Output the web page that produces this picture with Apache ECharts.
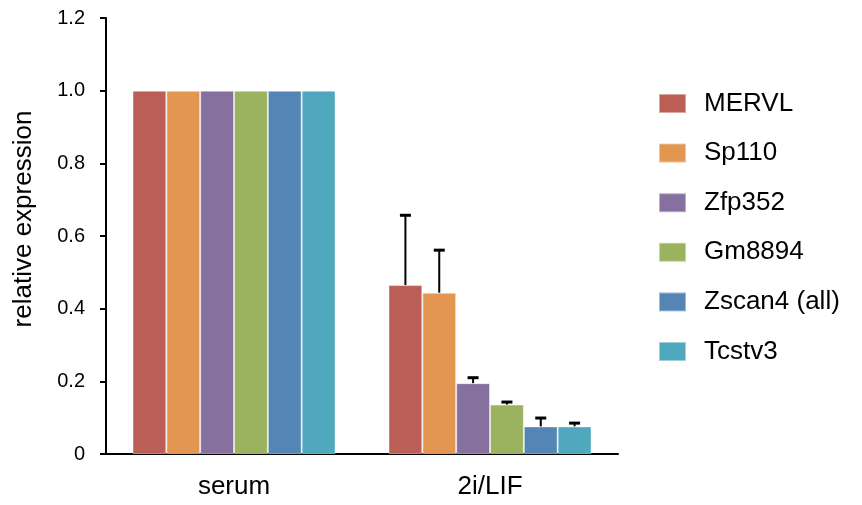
<!DOCTYPE html>
<html><head><meta charset="utf-8">
<script src="https://cdn.jsdelivr.net/npm/echarts@6/dist/echarts.min.js"></script>
<style>html,body{margin:0;padding:0;background:#fff}#c{width:862px;height:505px}</style>
</head><body><div id="c"></div>
<script>
const categories = ['serum', '2i/LIF'];
const genes = ['MERVL', 'Sp110', 'Zfp352', 'Gm8894', 'Zscan4 (all)', 'Tcstv3'];
const colors = ['#BA5E56', '#E3964F', '#8670A0', '#9BB25F', '#5585B5', '#50A8BE'];
const valMERVL  = [1, 0.465];
const valSp110  = [1, 0.444];
const valZfp352 = [1, 0.195];
const valGm8894 = [1, 0.136];
const valZscan4 = [1, 0.076];
const valTcstv3 = [1, 0.076];
const errMERVL  = [0, 0.192];
const errSp110  = [0, 0.117];
const errZfp352 = [0, 0.015];
const errGm8894 = [0, 0.007];
const errZscan4 = [0, 0.023];
const errTcstv3 = [0, 0.009];
const yTicks = ['0', '0.2', '0.4', '0.6', '0.8', '1.0', '1.2'];

const values = [valMERVL, valSp110, valZfp352, valGm8894, valZscan4, valTcstv3];
const errors = [errMERVL, errSp110, errZfp352, errGm8894, errZscan4, errTcstv3];
const catGap = 0.207;
const font = 'Liberation Sans, Arial, sans-serif';

const series = [];
genes.forEach((g, i) => {
  series.push({
    name: g, type: 'bar', data: values[i], barGap: '0%', barCategoryGap: (catGap * 100) + '%',
    itemStyle: { color: colors[i], borderColor: 'rgba(255,255,255,0.45)', borderWidth: 1 }, z: 2
  });
});
genes.forEach((g, i) => {
  series.push({
    type: 'custom', name: g + '_err', z: 3, silent: true,
    data: categories.map((c, k) => [k, values[i][k], values[i][k] + errors[i][k]]),
    renderItem: function (params, api) {
      const k = api.value(0);
      if (api.value(2) <= api.value(1)) return null;
      const band = api.size([1, 0])[0];
      const area = band * (1 - catGap);
      const bw = area / genes.length;
      const base = api.coord([k, api.value(1)]);
      const top = api.coord([k, api.value(2)]);
      const x = base[0] - area / 2 + (i + 0.5) * bw;
      return { type: 'group', children: [
        { type: 'line', shape: { x1: x, y1: base[1], x2: x, y2: top[1] }, style: { stroke: '#000', lineWidth: 2 } },
        { type: 'line', shape: { x1: x - 5.5, y1: top[1], x2: x + 5.5, y2: top[1] }, style: { stroke: '#000', lineWidth: 3 } }
      ]};
    }
  });
});

const chart = echarts.init(document.getElementById('c'));
chart.setOption({
  animation: false,
  backgroundColor: '#fff',
  grid: { left: 106, right: 244, top: 18, bottom: 51, containLabel: false },
  legend: {
    data: genes, orient: 'vertical', left: 658, top: 90.5, padding: 0,
    itemWidth: 27, itemHeight: 19, itemGap: 23.6, icon: 'rect',
    textStyle: { fontSize: 26, fontFamily: font, color: '#000', padding: [0, 0, 0, 13] }
  },
  xAxis: {
    type: 'category', data: categories,
    axisLine: { lineStyle: { color: '#000', width: 2 } },
    axisTick: { show: false },
    axisLabel: { fontSize: 26, fontFamily: font, color: '#000', margin: 20 }
  },
  yAxis: {
    type: 'value', min: 0, max: 1.2, interval: 0.2,
    axisLine: { show: true, lineStyle: { color: '#000', width: 2 } },
    axisTick: { show: true, length: 6, lineStyle: { color: '#000', width: 2 } },
    splitLine: { show: false },
    axisLabel: { fontSize: 20, fontFamily: font, color: '#000', margin: 21,
      formatter: (v) => yTicks[Math.round(v / 0.2)] }
  },
  graphic: [{
    type: 'text', x: 24, y: 219, rotation: Math.PI / 2,
    style: { text: 'relative expression', fontSize: 26, fontFamily: font, fill: '#000', align: 'center', verticalAlign: 'middle' }
  }],
  series: series
});
</script></body></html>
